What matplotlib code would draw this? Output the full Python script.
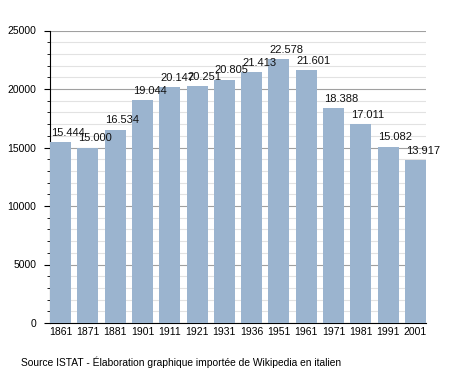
import numpy as np
import matplotlib
matplotlib.use("Agg")
import matplotlib.pyplot as plt
from matplotlib.ticker import MultipleLocator

years = ["1861", "1871", "1881", "1901", "1911", "1921", "1931",
         "1936", "1951", "1961", "1971", "1981", "1991", "2001"]
population = [15444, 15000, 16534, 19044, 20147, 20251, 20805,
              21413, 22578, 21601, 18388, 17011, 15082, 13917]
value_labels = ["15.444", "15.000", "16.534", "19.044", "20.147", "20.251", "20.805",
                "21.413", "22.578", "21.601", "18.388", "17.011", "15.082", "13.917"]

plt.rcParams['font.family'] = ['Liberation Sans', 'DejaVu Sans']

fig = plt.figure(figsize=(4.55, 3.73), dpi=100)
ax = fig.add_axes([50/455, 1 - 323/373, 376/455, (323 - 30.5)/373])

x = np.arange(len(years))
w = 0.77
ax.bar(x, population, width=w, color="#9bb4cf", zorder=3)

# value labels sit just above each bar, starting at its left edge
for xi, v, lab in zip(x, population, value_labels):
    ax.text(xi - w/2 + 0.03, v + 350, lab, ha="left", va="bottom",
            fontsize=8, color="#111111", zorder=4)

ax.set_xlim(-w/2, len(years) - 1 + w/2)
ax.set_ylim(0, 25000)
ax.yaxis.set_major_locator(MultipleLocator(5000))
ax.yaxis.set_minor_locator(MultipleLocator(1000))
ax.grid(which="major", axis="y", color="#a0a0a0", linewidth=0.8, zorder=1)
ax.grid(which="minor", axis="y", color="#e2e2e2", linewidth=0.8, zorder=1)
ax.grid(False, axis="x")

ax.set_xticks(x)
ax.set_xticklabels(years)
ax.tick_params(axis="x", length=0, labelsize=7.5, pad=3)
ax.tick_params(axis="y", which="major", length=4, width=0.8, labelsize=7.5, pad=6)
ax.tick_params(axis="y", which="minor", length=2, width=0.6)

for s in ["top", "right"]:
    ax.spines[s].set_visible(False)
ax.spines["left"].set_color("black")
ax.spines["bottom"].set_color("black")

fig.text(21/455, 1 - 362/373, "Source ISTAT - Élaboration graphique importée de Wikipedia en italien",
         ha="left", va="center", fontsize=7.4)

fig.savefig("out.png", dpi=100)
